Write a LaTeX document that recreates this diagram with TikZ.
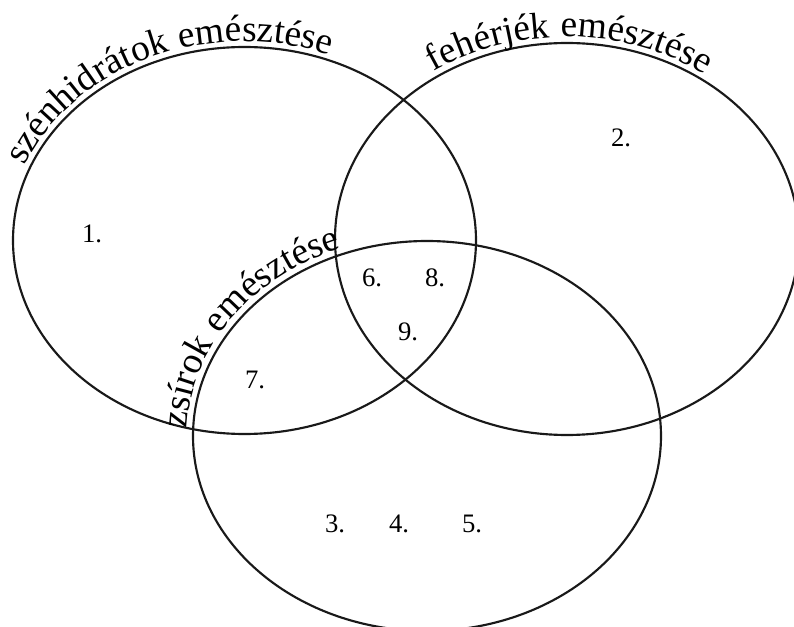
\documentclass[tikz,border=0pt]{standalone}
\usepackage{fontspec}
\setmainfont{Liberation Serif}
\newfontfamily\cimfamily[LetterSpace=3]{Liberation Serif}
\usetikzlibrary{decorations.text}
\newcommand\cimfont{\cimfamily\fontsize{28}{32}\selectfont}

\begin{document}
\begin{tikzpicture}[x=0.75pt,y=0.75pt,line width=1.6pt]
	\tikzstyle{szam}=[inner sep=0pt,font=\fontsize{20}{24}\selectfont]
	\tikzstyle{halmaz}=[draw=black!90]
	\tikzstyle{felirat}=[decorate,decoration={text along path,text align=left}]
	\useasboundingbox (0,0) rectangle (794,626);

	% Centres of the three sets
	\coordinate (szenhidrat) at (244.5,385.5);
	\coordinate (feherje) at (567,387);
	\coordinate (zsir) at (427,190);

	% Draw the sets
	\draw[halmaz] (szenhidrat) ellipse [x radius=231.5, y radius=193.5];
	\draw[halmaz] (feherje) ellipse [x radius=232, y radius=196];
	\draw[halmaz] (zsir) ellipse [x radius=234, y radius=195];

	% Curved names of the sets
	\path[felirat,decoration={text={|\cimfont|szénhidrátok emésztése}}]
		(szenhidrat) ++(158:237 and 199) arc[start angle=158, end angle=20, x radius=237, y radius=199];
	\path[felirat,decoration={text={|\cimfont|fehérjék emésztése}}]
		(feherje) ++(124:238 and 202) arc[start angle=124, end angle=0, x radius=238, y radius=202];
	\path[felirat,decoration={text={|\cimfont|zsírok emésztése}}]
		(zsir) ++(178:240 and 201) arc[start angle=178, end angle=70, x radius=240, y radius=201];

	% Numbers of the regions
	\node[szam] (n1) at (92,392) {1.};
	\node[szam] (n2) at (621,488) {2.};
	\node[szam] (n3) at (335,102) {3.};
	\node[szam] (n4) at (399,102) {4.};
	\node[szam] (n5) at (472,102) {5.};
	\node[szam] (n6) at (372,348) {6.};
	\node[szam] (n7) at (255,246) {7.};
	\node[szam] (n8) at (435,348) {8.};
	\node[szam] (n9) at (408,294) {9.};
\end{tikzpicture}
\end{document}
